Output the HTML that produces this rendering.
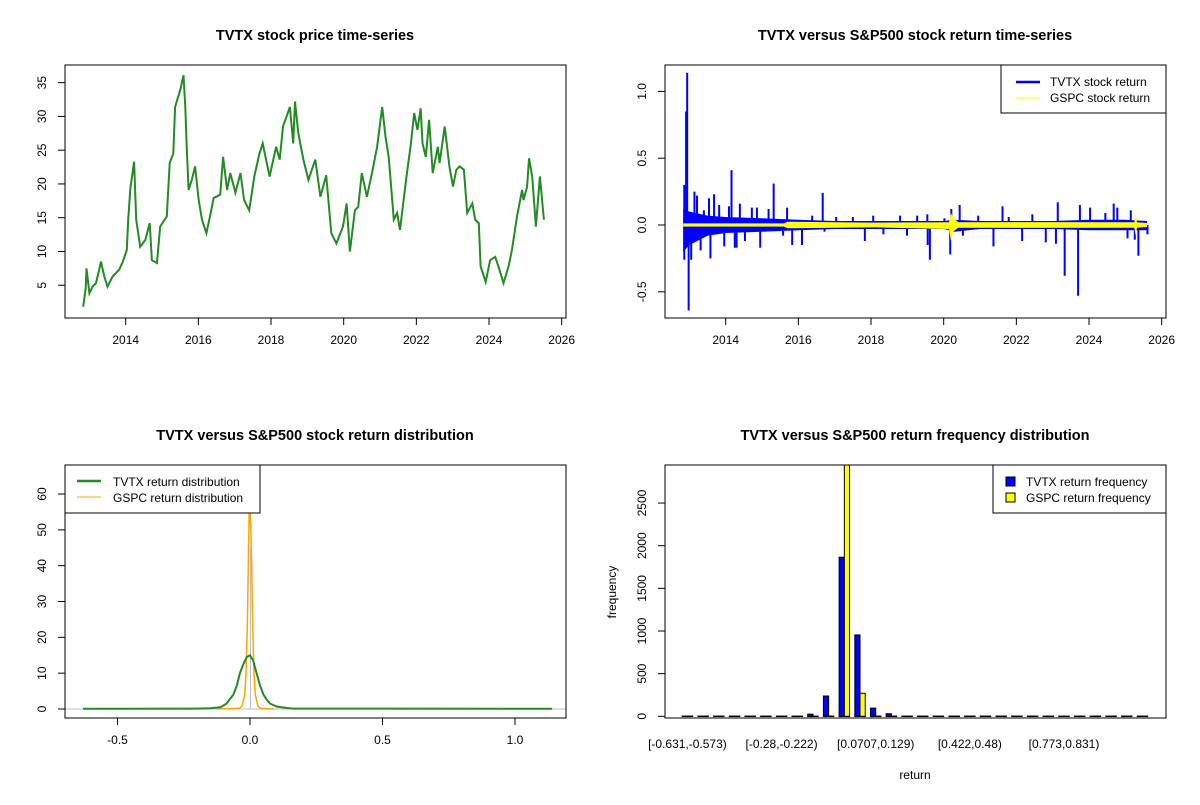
<!DOCTYPE html>
<html><head><meta charset="utf-8"><style>
body{margin:0;background:#fff;}
svg{font-family:"Liberation Sans",Arial,sans-serif;}
.t{font-weight:bold;font-size:14.5px;text-anchor:middle;}
.tk{font-size:12px;}
</style></head><body>
<svg id="c" width="1200" height="800" viewBox="0 0 1200 800" xmlns="http://www.w3.org/2000/svg"></svg>
<script>
// ---------- data ----------
const priceYears=[2012.83,2012.9,2012.92,2013.0,2013.09,2013.18,2013.27,2013.32,2013.41,2013.5,2013.64,2013.82,2013.92,2014.03,2014.07,2014.13,2014.23,2014.29,2014.4,2014.54,2014.66,2014.72,2014.86,2014.95,2015.13,2015.21,2015.31,2015.36,2015.5,2015.59,2015.64,2015.68,2015.73,2015.82,2015.91,2016.01,2016.1,2016.22,2016.33,2016.42,2016.6,2016.68,2016.79,2016.88,2017.02,2017.16,2017.26,2017.4,2017.54,2017.68,2017.77,2017.96,2018.14,2018.24,2018.33,2018.52,2018.61,2018.66,2018.75,2018.89,2019.03,2019.22,2019.36,2019.52,2019.66,2019.8,2019.98,2020.08,2020.17,2020.31,2020.4,2020.5,2020.64,2020.78,2020.92,2021.06,2021.15,2021.24,2021.38,2021.47,2021.55,2021.73,2021.84,2021.94,2022.03,2022.12,2022.17,2022.26,2022.35,2022.45,2022.59,2022.64,2022.78,2022.91,2023.01,2023.1,2023.19,2023.31,2023.4,2023.54,2023.62,2023.72,2023.77,2023.91,2024.03,2024.17,2024.26,2024.4,2024.54,2024.63,2024.77,2024.91,2024.95,2025.05,2025.1,2025.19,2025.29,2025.4,2025.51];
const priceValues=[1.8,4.6,7.5,3.8,4.8,5.3,7.3,8.5,6.3,4.8,6.3,7.3,8.5,10.2,14.7,19.4,23.3,14.7,10.7,11.7,14.2,8.7,8.3,13.7,15.2,23.1,24.5,31.4,33.9,36.1,31.4,25.5,19.1,20.6,22.6,17.6,14.7,12.7,15.4,17.9,18.4,24.0,19.1,21.6,18.7,21.6,17.6,16.1,21.1,24.5,26.0,21.1,25.5,23.6,28.5,31.4,26.0,32.2,27.5,23.6,20.6,23.6,18.1,21.3,12.7,11.2,13.7,17.1,10.0,16.1,16.6,21.6,18.1,21.6,25.5,31.4,27.0,24.0,14.7,15.7,13.2,21.1,25.5,30.5,28.0,31.2,26.0,24.0,29.5,21.6,25.5,23.1,28.5,22.6,19.6,22.1,22.6,22.1,15.7,17.1,14.7,14.2,7.8,5.5,8.7,9.2,7.8,5.3,7.8,10.2,15.2,19.1,17.6,19.6,23.8,21.1,13.7,21.1,14.7,16.6,18.9];
const priceTicksX=[2014,2016,2018,2020,2022,2024,2026];
const priceTicksY=[5,10,15,20,25,30,35];

const spikeYears=[2012.86,2012.86,2012.94,2012.91,2012.98,2013.05,2013.14,2013.21,2013.31,2013.4,2013.54,2013.58,2013.68,2013.82,2013.96,2014.09,2014.16,2014.25,2014.3,2014.39,2014.53,2014.72,2014.86,2014.95,2015.18,2015.32,2015.58,2015.69,2015.83,2016.1,2016.38,2016.67,2016.72,2017.04,2017.5,2017.83,2018.06,2018.34,2018.8,2018.99,2019.27,2019.55,2019.56,2019.62,2020.02,2020.18,2020.21,2020.44,2020.53,2020.95,2021.37,2021.62,2021.79,2022.16,2022.44,2022.81,2023.09,2023.14,2023.33,2023.7,2023.75,2024.03,2024.45,2024.68,2024.78,2025.06,2025.15,2025.26,2025.36,2025.61];
const spikeValues=[0.30,-0.26,1.14,0.85,-0.64,-0.26,0.25,0.22,-0.19,0.11,0.20,-0.25,0.23,0.15,-0.16,0.14,0.41,-0.17,-0.17,0.16,-0.12,0.13,0.13,-0.17,0.12,0.31,-0.08,0.13,-0.15,-0.15,0.07,0.24,-0.05,0.06,0.06,-0.12,0.07,-0.07,0.07,-0.08,0.07,0.08,-0.15,-0.26,0.05,-0.22,0.12,0.15,-0.08,0.07,-0.16,0.14,0.06,-0.12,0.08,-0.13,-0.14,0.17,-0.38,-0.53,0.15,0.13,0.09,0.16,0.13,-0.10,0.11,-0.11,-0.23,-0.07];
const bandYears=[2012.83,2013.0,2013.5,2014.0,2015.0,2016.0,2017.0,2018.0,2019.0,2020.0,2020.3,2021.0,2022.0,2023.0,2024.0,2025.0,2025.6];
const bandUpper=[0.12,0.1,0.07,0.06,0.05,0.04,0.03,0.03,0.03,0.03,0.04,0.03,0.03,0.03,0.04,0.04,0.03];
const bandLower=[-0.2,-0.15,-0.08,-0.06,-0.05,-0.04,-0.03,-0.03,-0.03,-0.03,-0.05,-0.03,-0.03,-0.03,-0.04,-0.04,-0.04];
const gspcYears=[2012.83,2015.6,2015.7,2018.1,2020.15,2020.2,2020.25,2020.4,2022.3,2025.25,2025.28,2025.32,2025.6];
const gspcUpper=[0.012,0.012,0.025,0.018,0.02,0.09,0.06,0.02,0.022,0.02,0.09,0.02,0.015];
const gspcLower=[-0.012,-0.012,-0.025,-0.018,-0.03,-0.12,-0.05,-0.02,-0.022,-0.02,-0.08,-0.02,-0.015];
const retTicksY=[-0.5,0,0.5,1.0];
const retTickLabels=["-0.5","0.0","0.5","1.0"];

const densTvtxX=[-0.63,-0.2,-0.15,-0.11,-0.089,-0.063,-0.05,-0.038,-0.025,-0.012,0,0.012,0.025,0.038,0.051,0.064,0.076,0.1,0.13,0.16,1.14];
const densTvtxY=[0.05,0.1,0.2,0.5,1.5,4,6.5,10,12.5,14.5,15,13.5,10,6.5,4,2.5,1.5,0.7,0.4,0.1,0.05];
const densGspcX=[-0.12,-0.04,-0.03,-0.02,-0.015,-0.01,-0.006,-0.003,0,0.003,0.006,0.01,0.015,0.02,0.03,0.04,0.09];
const densGspcY=[0,0.2,0.8,4,10,23,42,55,58,50,42,23,10,4,0.8,0.2,0];
const densTicksX=[-0.5,0,0.5,1.0];
const densTickLabelsX=["-0.5","0.0","0.5","1.0"];
const densTicksY=[0,10,20,30,40,50,60];

const histTvtx=[1,0,0,0,0,0,8,8,25,238,1865,954,96,30,10,8,3,1,0,0,0,0,0,0,0,0,0,0,0,1];
const histGspc=[0,0,0,0,0,0,0,0,0,8,3100,270,5,0,0,0,0,0,0,0,0,0,0,0,0,0,0,0,0,0];
const histLabels=["[-0.631,-0.573)","","","","","","[-0.28,-0.222)","","","","","","[0.0707,0.129)","","","","","","[0.422,0.48)","","","","","","[0.773,0.831)","","","","",""];
const histTicksY=[0,500,1000,1500,2000,2500];

// ---------- helpers ----------
const svg=document.getElementById('c');
const NS='http://www.w3.org/2000/svg';
function mk(tag,attrs,parent){const e=document.createElementNS(NS,tag);for(const k in attrs)e.setAttribute(k,attrs[k]);(parent||svg).appendChild(e);return e;}
function txt(s,x,y,cls,parent,extra){const e=mk('text',Object.assign({x:x,y:y,class:cls},extra||{}),parent);e.textContent=s;return e;}
function group(name){const g=mk('g',{});return g;}

// ---------- Panel 1: price ----------
(function(){
 const g=group('price-panel');
 const L=65,R=566,T=65,B=318;
 const x=v=>125.7+(v-2014)*36.33, y=v=>319-v*6.753;
 const t=txt('TVTX stock price time-series',315,40,'t',g);
 
 const pl=mk('polyline',{points:priceYears.map((d,i)=>x(d).toFixed(1)+','+y(priceValues[i]).toFixed(1)).join(' '),fill:'none',stroke:'#228B22','stroke-width':2},g);
 
 const box=mk('rect',{x:L,y:T,width:R-L,height:B-T,fill:'none',stroke:'#000'},g);
 
 priceTicksX.forEach(v=>{mk('line',{x1:x(v),x2:x(v),y1:B,y2:B+7,stroke:'#000'},g);const e=txt(String(v),x(v),344,'tk',g,{'text-anchor':'middle'});});
 mk('line',{x1:x(2014),x2:x(2026),y1:B,y2:B,stroke:'#000'},g);
 priceTicksY.forEach(v=>{mk('line',{x1:L,x2:L-7,y1:y(v),y2:y(v),stroke:'#000'},g);const e=txt(String(v),46,y(v),'tk',g,{'text-anchor':'middle',transform:`rotate(-90 46 ${y(v)})`});});
})();

// ---------- Panel 2: returns ----------
(function(){
 const g=group('returns-panel');
 const L=665,R=1166,T=65,B=318;
 const x=v=>725.7+(v-2014)*36.33, y=v=>225-v*133.6;
 const t=txt('TVTX versus S&P500 stock return time-series',915,40,'t',g);
 
 const up=bandYears.map((d,i)=>x(d).toFixed(1)+','+y(bandUpper[i]).toFixed(1));
 const lo=bandYears.map((d,i)=>x(d).toFixed(1)+','+y(bandLower[i]).toFixed(1)).reverse();
 const band=mk('polygon',{points:up.concat(lo).join(' '),fill:'#0000FF'},g);
 
 spikeYears.forEach((d,i)=>{const l=mk('line',{x1:x(d),x2:x(d),y1:y(0),y2:y(spikeValues[i]),stroke:'#0000FF','stroke-width':2},g);
  });
 const gu=gspcYears.map((d,i)=>x(d).toFixed(1)+','+y(gspcUpper[i]).toFixed(1));
 const gl=gspcYears.map((d,i)=>x(d).toFixed(1)+','+y(gspcLower[i]).toFixed(1)).reverse();
 const gb=mk('polygon',{points:gu.concat(gl).join(' '),fill:'#FFFF00'},g);
 
 const box=mk('rect',{x:L,y:T,width:R-L,height:B-T,fill:'none',stroke:'#000'},g);
 
 priceTicksX.forEach(v=>{mk('line',{x1:x(v),x2:x(v),y1:B,y2:B+7,stroke:'#000'},g);const e=txt(String(v),x(v),344,'tk',g,{'text-anchor':'middle'});});
 retTicksY.forEach((v,i)=>{mk('line',{x1:L,x2:L-7,y1:y(v),y2:y(v),stroke:'#000'},g);const e=txt(retTickLabels[i],646,y(v),'tk',g,{'text-anchor':'middle',transform:`rotate(-90 646 ${y(v)})`});});
 const lg=mk('g',{},g);
 mk('rect',{x:1001,y:65,width:165,height:48,fill:'#fff',stroke:'#000'},lg);
 mk('line',{x1:1016,x2:1040,y1:82,y2:82,stroke:'#0000FF','stroke-width':2.5},lg);
 mk('line',{x1:1016,x2:1040,y1:98,y2:98,stroke:'#FFFF00','stroke-width':1},lg);
 const a=txt('TVTX stock return',1050,86,'tk',lg);
 const b=txt('GSPC stock return',1050,102,'tk',lg);
})();

// ---------- Panel 3: density ----------
(function(){
 const g=group('density-panel');
 const L=65,R=566,T=465,B=718;
 const x=v=>250+v*265, y=v=>709-v*3.583;
 const t=txt('TVTX versus S&P500 stock return distribution',315,440,'t',g);
 
 const cp=mk('clipPath',{id:'cp3'},g);mk('rect',{x:L,y:T,width:R-L,height:B-T},cp);
 const inner=mk('g',{'clip-path':'url(#cp3)'},g);
 mk('line',{x1:L,x2:R,y1:y(0),y2:y(0),stroke:'#BEBEBE'},inner);
 const go=mk('polyline',{points:densGspcX.map((d,i)=>x(d).toFixed(1)+','+y(densGspcY[i]).toFixed(1)).join(' '),fill:'none',stroke:'#FFA500','stroke-width':1.5},inner);
 
 mk('line',{x1:x(0.002),x2:x(0.002),y1:y(0),y2:y(45),stroke:'#BEBEBE'},inner);
 const gr=mk('polyline',{points:densTvtxX.map((d,i)=>x(d).toFixed(1)+','+y(densTvtxY[i]).toFixed(1)).join(' '),fill:'none',stroke:'#228B22','stroke-width':2},inner);
 
 const box=mk('rect',{x:L,y:T,width:R-L,height:B-T,fill:'none',stroke:'#000'},g);
 
 densTicksX.forEach((v,i)=>{mk('line',{x1:x(v),x2:x(v),y1:B,y2:B+7,stroke:'#000'},g);const e=txt(densTickLabelsX[i],x(v),744,'tk',g,{'text-anchor':'middle'});});
 densTicksY.forEach(v=>{mk('line',{x1:L,x2:L-7,y1:y(v),y2:y(v),stroke:'#000'},g);const e=txt(String(v),46,y(v),'tk',g,{'text-anchor':'middle',transform:`rotate(-90 46 ${y(v)})`});});
 const lg=mk('g',{},g);
 mk('rect',{x:65,y:465,width:195,height:48,fill:'#fff',stroke:'#000'},lg);
 mk('line',{x1:77,x2:101,y1:481,y2:481,stroke:'#228B22','stroke-width':2.5},lg);
 mk('line',{x1:77,x2:101,y1:497,y2:497,stroke:'#FFA500','stroke-width':1},lg);
 const a=txt('TVTX return distribution',113,486,'tk',lg);
 const b=txt('GSPC return distribution',113,502,'tk',lg);
})();

// ---------- Panel 4: histogram ----------
(function(){
 const g=group('histogram-panel');
 const L=665,R=1166,T=465,B=718;
 const unit=5.23, x0=682.2;
 const gx=i=>x0+i*3*unit, y=v=>716.3-v*0.0853;
 const t=txt('TVTX versus S&P500 return frequency distribution',915,440,'t',g);
 
 const cp=mk('clipPath',{id:'cp4'},g);mk('rect',{x:L,y:T,width:R-L,height:B-T},cp);
 const inner=mk('g',{'clip-path':'url(#cp4)'},g);
 histTvtx.forEach((v,i)=>{
  const base=mk('line',{x1:gx(i)-0.5,x2:gx(i)+2*unit+0.5,y1:y(0),y2:y(0),stroke:'#000','stroke-width':1.5},inner);
  
 });
 histTvtx.forEach((v,i)=>{if(y(0)-y(v)<1)return;const r=mk('rect',{x:gx(i),y:y(v),width:unit,height:y(0)-y(v),fill:'#0000FF',stroke:'#000','stroke-width':1},inner);
  });
 histGspc.forEach((v,i)=>{if(y(0)-y(v)<1)return;const r=mk('rect',{x:gx(i)+unit,y:y(v),width:unit,height:y(0)-y(v),fill:'#FFFF00',stroke:'#000','stroke-width':1},inner);
  });
 const box=mk('rect',{x:L,y:T,width:R-L,height:B-T,fill:'none',stroke:'#000'},g);
 
 histLabels.forEach((s,i)=>{if(!s)return;const e=txt(s,gx(i)+unit,748,'tk',g,{'text-anchor':'middle'});});
 histTicksY.forEach(v=>{mk('line',{x1:L,x2:L-7,y1:y(v),y2:y(v),stroke:'#000'},g);const e=txt(String(v),646,y(v),'tk',g,{'text-anchor':'middle',transform:`rotate(-90 646 ${y(v)})`});});
 const yl=txt('frequency',616,592,'tk',g,{'text-anchor':'middle',transform:'rotate(-90 616 592)'});
 
 const xl=txt('return',915,779,'tk',g,{'text-anchor':'middle'});
 
 const lg=mk('g',{},g);
 mk('rect',{x:993,y:465,width:173,height:48,fill:'#fff',stroke:'#000'},lg);
 mk('rect',{x:1006,y:477,width:9,height:9,fill:'#0000FF',stroke:'#000'},lg);
 mk('rect',{x:1006,y:493,width:9,height:9,fill:'#FFFF00',stroke:'#000'},lg);
 const a=txt('TVTX return frequency',1026,486,'tk',lg);
 const b=txt('GSPC return frequency',1026,502,'tk',lg);
})();
</script>
</body></html>
